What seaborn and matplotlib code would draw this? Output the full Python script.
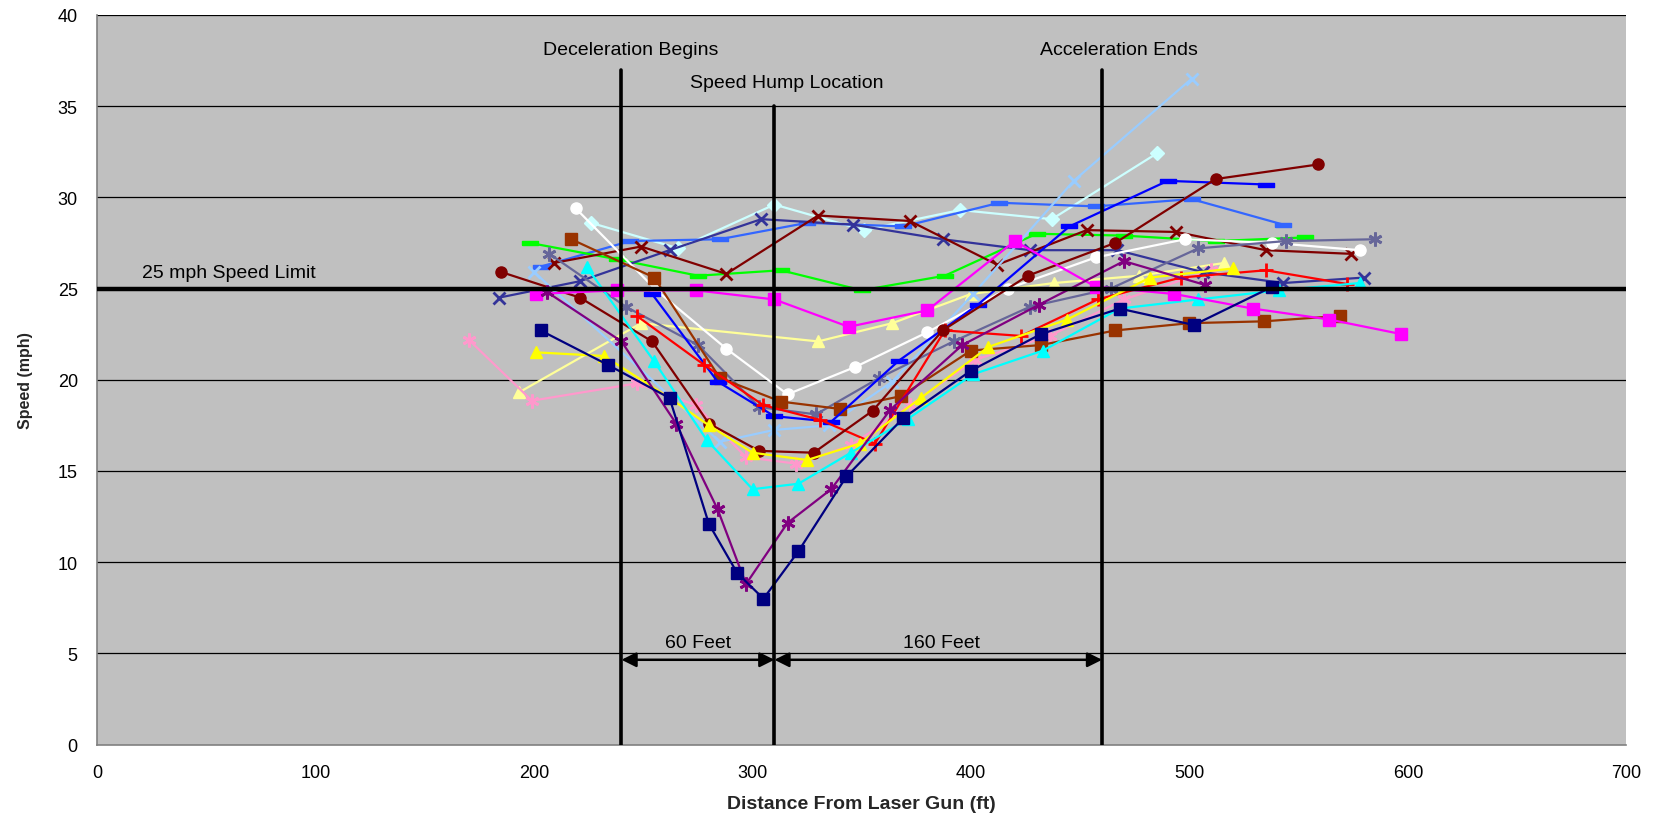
import matplotlib
matplotlib.use("Agg")
import matplotlib.pyplot as plt
import seaborn as sns

# ---------------- data ----------------
navy_x = [203, 234, 262, 280, 293, 305, 321, 343, 369, 400, 432, 468, 502, 538]
navy_y = [22.7, 20.8, 19.0, 12.1, 9.4, 8.0, 10.6, 14.7, 17.9, 20.5, 22.5, 23.9, 23.0, 25.1]

magenta_x = [201, 238, 274, 310, 344, 380, 420, 457, 493, 529, 564, 597]
magenta_y = [24.7, 24.9, 24.9, 24.4, 22.9, 23.8, 27.6, 25.1, 24.7, 23.9, 23.3, 22.5]

yellow_x = [201, 232, 262, 280, 300, 325, 349, 377, 408, 444, 482, 520]
yellow_y = [21.5, 21.3, 19.0, 17.5, 16.0, 15.6, 16.5, 19.0, 21.8, 23.3, 25.6, 26.1]

cyan_x = [224, 255, 279, 300, 321, 345, 371, 401, 433, 468, 504, 541, 578]
cyan_y = [26.2, 21.0, 16.7, 14.0, 14.3, 16.0, 17.85, 20.3, 21.6, 23.9, 24.4, 24.9, 25.3]

purple_x = [206, 240, 265, 284, 297, 316, 336, 363, 396, 431, 470, 507]
purple_y = [24.8, 22.1, 17.6, 12.9, 8.8, 12.15, 14.0, 18.35, 21.9, 24.1, 26.5, 25.2]

darkred_circle_x = [185, 221, 254, 280, 303, 328, 355, 387, 426, 466, 512, 559]
darkred_circle_y = [25.9, 24.5, 22.1, 17.6, 16.1, 16.0, 18.3, 22.7, 25.7, 27.5, 31.0, 31.8]

darkred_x_x = [209, 249, 288, 330, 372, 412, 453, 494, 535, 574]
darkred_x_y = [26.4, 27.3, 25.8, 29.0, 28.7, 26.3, 28.2, 28.1, 27.1, 26.9]

indigo_x = [184, 221, 262, 304, 346, 387, 427, 467, 506, 543, 580]
indigo_y = [24.5, 25.4, 27.1, 28.8, 28.5, 27.7, 27.1, 27.1, 25.9, 25.3, 25.6]

lightblue_x = [200, 285, 310, 335, 364, 401, 447, 501]
lightblue_y = [25.9, 16.6, 17.25, 17.5, 19.9, 24.7, 30.9, 36.5]

lightcyan_x = [226, 266, 310, 351, 395, 437, 485]
lightcyan_y = [28.6, 27.2, 29.6, 28.2, 29.3, 28.8, 32.4]

royal_x = [203, 244, 285, 325, 369, 413, 457, 501, 543]
royal_y = [26.2, 27.6, 27.7, 28.6, 28.4, 29.7, 29.5, 29.9, 28.5]

blue_x = [254, 284, 310, 336, 367, 403, 445, 490, 535]
blue_y = [24.7, 19.9, 18.0, 17.7, 21.05, 24.1, 28.4, 30.9, 30.7]

green_x = [198, 238, 275, 313, 350, 388, 430, 470, 512, 553]
green_y = [27.5, 26.6, 25.7, 26.0, 24.9, 25.7, 28.0, 27.9, 27.6, 27.8]

white_x = [219, 256, 288, 316, 347, 380, 417, 457, 498, 538, 578]
white_y = [29.4, 24.9, 21.7, 19.2, 20.7, 22.6, 25.0, 26.7, 27.7, 27.5, 27.1]

brown_x = [217, 255, 285, 313, 340, 368, 400, 432, 466, 500, 534, 569]
brown_y = [27.7, 25.6, 20.1, 18.8, 18.4, 19.1, 21.6, 21.9, 22.7, 23.1, 23.2, 23.5]

red_x = [247, 278, 305, 331, 356, 388, 423, 458, 496, 535, 572]
red_y = [23.5, 20.8, 18.6, 17.8, 16.5, 22.7, 22.4, 24.4, 25.6, 26.0, 25.25]

slate_x = [207, 242, 275, 303, 329, 358, 392, 427, 464, 504, 544, 585]
slate_y = [26.9, 24.0, 21.9, 18.5, 18.1, 20.1, 22.1, 24.0, 25.0, 27.2, 27.6, 27.7]

pink_x = [170, 199, 247, 274, 297, 320, 345, 372, 402, 436, 470, 510]
pink_y = [22.2, 18.85, 19.8, 18.6, 15.75, 15.4, 16.4, 18.6, 21.1, 22.4, 24.4, 26.0]

lightyellow_x = [193, 249, 330, 364, 400, 438, 477, 516]
lightyellow_y = [19.3, 23.1, 22.1, 23.1, 24.7, 25.3, 25.7, 26.4]

# reference lines / annotations
speed_limit = 25
decel_x, hump_x, accel_x = 240, 310, 460
decel_top, hump_top, accel_top = 37.0, 35.0, 37.0
arrow_y = 4.65
x_ticks = [0, 100, 200, 300, 400, 500, 600, 700]
y_ticks = [0, 5, 10, 15, 20, 25, 30, 35, 40]

# ---------------- styling ----------------
sns.set_theme(style="white")
plt.rcParams['font.family'] = ['Liberation Sans', 'DejaVu Sans']

ASTER = (6, 2, 0)
DASH = [(-1, -0.32), (1, -0.32), (1, 0.32), (-1, 0.32), (-1, -0.32)]

series = [
    (lightyellow_x, lightyellow_y, '#FFFF99', '^', 9),
    (pink_x, pink_y, '#FF99CC', ASTER, 10),
    (lightcyan_x, lightcyan_y, '#CCFFFF', 'D', 7),
    (royal_x, royal_y, '#3366FF', DASH, 11),
    (green_x, green_y, '#00FF00', DASH, 11),
    (indigo_x, indigo_y, '#333399', 'x', 9),
    (darkred_x_x, darkred_x_y, '#800000', 'x', 9),
    (lightblue_x, lightblue_y, '#99CCFF', 'x', 9),
    (white_x, white_y, '#FFFFFF', 'o', 8),
    (slate_x, slate_y, '#666699', ASTER, 10),
    (brown_x, brown_y, '#993300', 's', 8),
    (blue_x, blue_y, '#0000FF', DASH, 11),
    (red_x, red_y, '#FF0000', '+', 10),
    (darkred_circle_x, darkred_circle_y, '#800000', 'o', 8),
    (yellow_x, yellow_y, '#FFFF00', '^', 9),
    (cyan_x, cyan_y, '#00FFFF', '^', 9),
    (magenta_x, magenta_y, '#FF00FF', 's', 8),
    (purple_x, purple_y, '#800080', ASTER, 10),
    (navy_x, navy_y, '#000080', 's', 8),
]

fig = plt.figure(figsize=(16.56, 8.2), dpi=100)
ax = fig.add_axes([0.0587, 0.0907, 0.9821 - 0.0587, 0.9807 - 0.0907])
ax.set_facecolor('#C0C0C0')

for xs, ys, col, mk, ms in series:
    mew = 2.0 if mk in ('x', '+', ASTER) else 1.0
    sns.lineplot(x=xs, y=ys, ax=ax, color=col, marker=mk, markersize=ms,
                 markeredgecolor=col, markerfacecolor=col, markeredgewidth=mew,
                 linewidth=1.6, sort=False, estimator=None, zorder=3)

# gridlines
for yv in y_ticks[1:]:
    ax.axhline(yv, color='black', linewidth=0.9, zorder=1)

# speed limit and vertical markers
ax.axhline(speed_limit, color='black', linewidth=3.2, zorder=4)
ax.plot([decel_x, decel_x], [0, decel_top], color='black', linewidth=2.6, zorder=4)
ax.plot([hump_x, hump_x], [0, hump_top], color='black', linewidth=2.6, zorder=4)
ax.plot([accel_x, accel_x], [0, accel_top], color='black', linewidth=2.6, zorder=4)

# dimension arrows
ap = dict(arrowstyle='<|-|>', color='black', lw=1.8, mutation_scale=22,
          shrinkA=0, shrinkB=0)
ax.annotate('', xy=(hump_x, arrow_y), xytext=(decel_x, arrow_y), arrowprops=ap, zorder=5)
ax.annotate('', xy=(accel_x, arrow_y), xytext=(hump_x, arrow_y), arrowprops=ap, zorder=5)

fs = 14
ax.text(244, 38.1, 'Deceleration Begins', ha='center', va='center', fontsize=fs, color='black')
ax.text(315.5, 36.3, 'Speed Hump Location', ha='center', va='center', fontsize=fs, color='black')
ax.text(467.5, 38.1, 'Acceleration Ends', ha='center', va='center', fontsize=fs, color='black')
ax.text(60.5, 25.9, '25 mph Speed Limit', ha='center', va='center', fontsize=fs, color='black')
ax.text(275, 5.6, '60 Feet', ha='center', va='center', fontsize=fs, color='black')
ax.text(386.5, 5.6, '160 Feet', ha='center', va='center', fontsize=fs, color='black')

ax.set_xlim(0, 700)
ax.set_ylim(0, 40)
ax.set_xticks(x_ticks)
ax.set_yticks(y_ticks)
ax.set_xticklabels([str(v) for v in x_ticks])
ax.set_yticklabels([str(v) for v in y_ticks])
ax.tick_params(axis='both', direction='out', length=6, width=1, color='#808080',
               labelsize=13, labelcolor='black', pad=8)
ax.grid(False)

for s in ['top', 'right']:
    ax.spines[s].set_visible(False)
for s in ['left', 'bottom']:
    ax.spines[s].set_color('#808080')
    ax.spines[s].set_linewidth(1.2)

ax.set_xlabel('Distance From Laser Gun (ft)', fontsize=14, fontweight='bold', labelpad=10)
ax.set_ylabel('Speed (mph)', fontsize=11.5, fontweight='bold', labelpad=18)

fig.savefig('out.png', dpi=100, facecolor='white')
